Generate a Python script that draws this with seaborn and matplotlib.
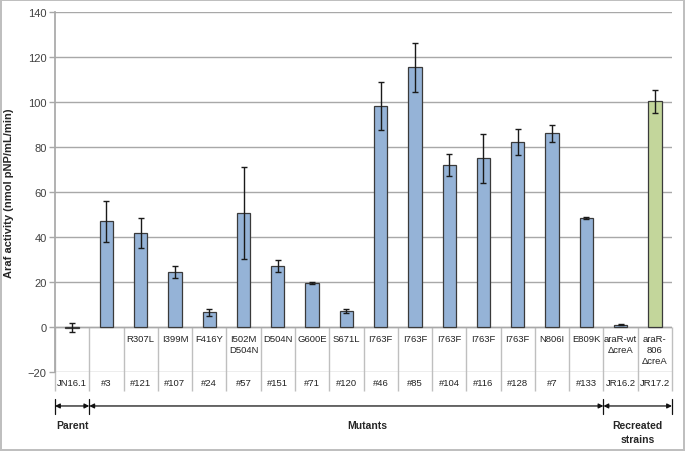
import matplotlib
matplotlib.use('Agg')
import matplotlib.pyplot as plt
import seaborn as sns
import pandas as pd

strains = ['JN16.1', '#3', '#121', '#107', '#24', '#57', '#151', '#71', '#120',
           '#46', '#85', '#104', '#116', '#128', '#7', '#133', 'JR16.2', 'JR17.2']
mutations = ['', '', 'R307L', 'I399M', 'F416Y', 'I502M\nD504N', 'D504N', 'G600E', 'S671L',
             'I763F', 'I763F', 'I763F', 'I763F', 'I763F', 'N806I', 'E809K',
             'araR-wt\nΔcreA', 'araR-\n806\nΔcreA']
activity = [-0.3, 46.9, 41.8, 24.5, 6.6, 50.6, 27.3, 19.7, 7.1,
            98.3, 115.5, 72.0, 75.0, 82.1, 86.1, 48.5, 1.0, 100.3]
errors = [2.0, 9.3, 6.6, 2.7, 1.6, 20.4, 2.7, 0.5, 1.0,
          10.7, 10.9, 5.0, 10.8, 5.7, 3.8, 0.6, 0.3, 5.0]
groups = ['Parent'] + ['Mutants'] * 15 + ['Recreated'] * 2

df = pd.DataFrame({'strain': strains, 'activity': activity, 'group': groups})

sns.set_theme(style='white')
plt.rcParams['font.family'] = ['Liberation Sans', 'DejaVu Sans']

fig = plt.figure(figsize=(6.85, 4.52), dpi=100)
fig.patch.set_edgecolor('#BFBFBF')
fig.patch.set_linewidth(1.5)
ax = fig.add_axes([55 / 685, 1 - 373 / 452, 617 / 685, 360 / 452])

# blue for strains, green for the recreated araR-806 strain
colors = ['#95B3D7'] * 17 + ['#C3D69B']
sns.barplot(data=df, x='strain', y='activity', hue='strain',
            palette=colors, legend=False, saturation=1,
            width=0.39, edgecolor='#3A3A3A', linewidth=0.9, ax=ax, zorder=3)
ax.errorbar(range(len(strains)), activity, yerr=errors, fmt='none',
            ecolor='#1A1A1A', elinewidth=1.0, capsize=2.5, capthick=1.0, zorder=4)

ax.set_ylim(-20, 140)
ax.set_xlim(-0.5, len(strains) - 0.5)
ax.set_yticks(range(-20, 141, 20))
ax.yaxis.grid(True, color='#A8A8A8', linewidth=1.0, zorder=0)
ax.set_axisbelow(True)
ax.tick_params(axis='y', labelsize=8, labelcolor='#404040', color='#A8A8A8',
               length=4, width=1, direction='out', left=True, pad=2)
ax.set_xticks([])
ax.set_xlabel('')
ax.set_ylabel('Araf activity (nmol pNP/mL/min)', fontsize=8, fontweight='bold', labelpad=10)
for s in ['top', 'right', 'bottom']:
    ax.spines[s].set_visible(False)
ax.spines['left'].set_color('#A8A8A8')

# table lines under the bars
bottom = -28.4
ax.vlines([i - 0.5 for i in range(len(strains) + 1)], bottom, 0,
          colors='#BFBFBF', linewidth=1.0, clip_on=False, zorder=1)
ax.axhline(0, color='#A8A8A8', linewidth=1.0, zorder=2)

for i, (m, s) in enumerate(zip(mutations, strains)):
    ax.text(i, -3.3, m, ha='center', va='top', fontsize=6.8, color='#222222',
            linespacing=1.25, clip_on=False)
    ax.text(i, -24.8, s, ha='center', va='center', fontsize=6.8, color='#222222',
            clip_on=False)

# group arrows
arrow_y = -35.1
spans = [(-0.5, 0.5), (0.5, 15.5), (15.5, 17.5)]
for a, b in spans:
    ax.annotate('', xy=(a, arrow_y), xytext=(b, arrow_y), xycoords='data',
                annotation_clip=False,
                arrowprops=dict(arrowstyle='<|-|>', color='#111111', lw=0.9,
                                mutation_scale=7, shrinkA=0, shrinkB=0))
for x in [-0.5, 0.5, 15.5, 17.5]:
    ax.plot([x, x], [-31.9, -38.6], color='#111111', lw=0.9, clip_on=False)

ax.text(0, -43.5, 'Parent', ha='center', va='center', fontsize=7.5, fontweight='bold', clip_on=False)
ax.text(8.6, -43.5, 'Mutants', ha='center', va='center', fontsize=7.5, fontweight='bold', clip_on=False)
ax.text(16.5, -43.5, 'Recreated', ha='center', va='center', fontsize=7.5, fontweight='bold', clip_on=False)
ax.text(16.5, -49.8, 'strains', ha='center', va='center', fontsize=7.5, fontweight='bold', clip_on=False)

fig.savefig('out.png', dpi=100, edgecolor=fig.get_edgecolor())
